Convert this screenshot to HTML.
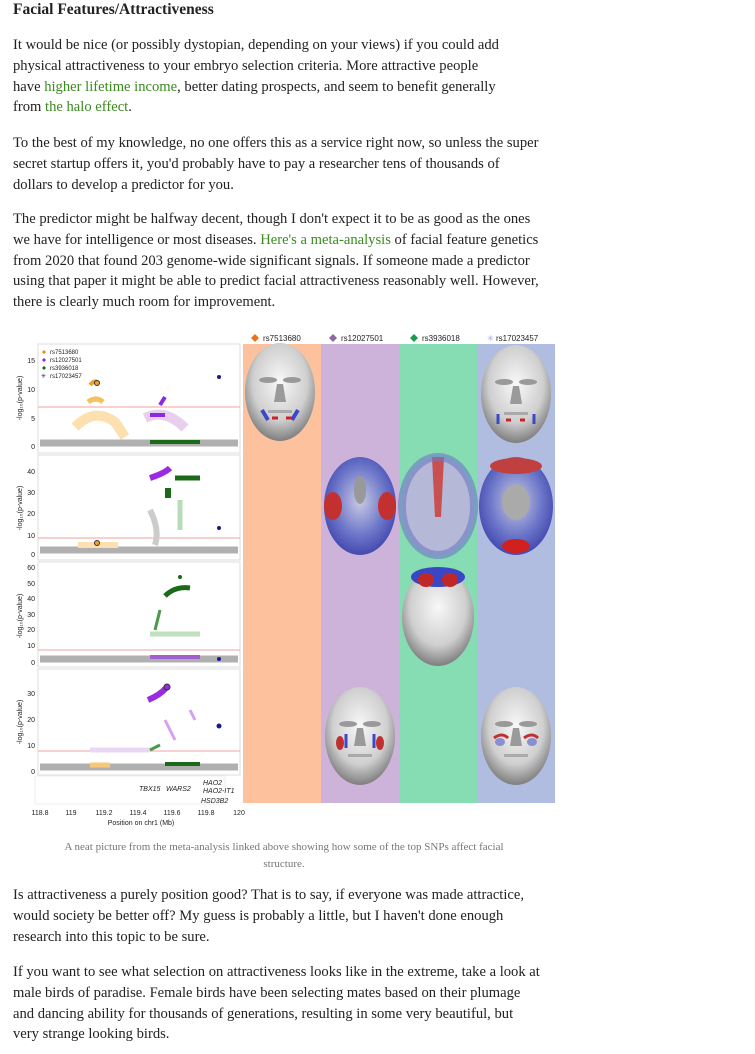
<!DOCTYPE html>
<html><head><meta charset="utf-8"><style>
body{margin:0;background:#fff;width:755px;height:1054px;overflow:hidden;font-family:"Liberation Serif",serif;color:#222;}
.t{position:absolute;left:13px;font-size:14.6px;line-height:20.8px;white-space:nowrap;}
a{color:#3a8a1f;text-decoration:none}
h3{position:absolute;left:13px;top:0;margin:0;font-size:15.5px;font-weight:bold;line-height:20px;}
.cap{position:absolute;left:13px;width:542px;text-align:center;font-size:11px;line-height:17px;color:#777;}
svg text{font-family:"Liberation Sans",sans-serif}
</style></head><body>
<h3>Facial Features/Attractiveness</h3>
<div class="t" style="top:35px">It would be nice (or possibly dystopian, depending on your views) if you could add<br>physical attractiveness to your embryo selection criteria. More attractive people<br>have <a>higher lifetime income</a>, better dating prospects, and seem to benefit generally<br>from <a>the halo effect</a>.</div>
<div class="t" style="top:133px">To the best of my knowledge, no one offers this as a service right now, so unless the super<br>secret startup offers it, you'd probably have to pay a researcher tens of thousands of<br>dollars to develop a predictor for you.</div>
<div class="t" style="top:209px">The predictor might be halfway decent, though I don't expect it to be as good as the ones<br>we have for intelligence or most diseases. <a>Here's a meta-analysis</a> of facial feature genetics<br>from 2020 that found 203 genome-wide significant signals. If someone made a predictor<br>using that paper it might be able to predict facial attractiveness reasonably well. However,<br>there is clearly much room for improvement.</div>

<svg style="position:absolute;left:0;top:330px" width="560" height="500">
<defs>
<radialGradient id="fg" cx="50%" cy="40%" r="60%"><stop offset="0" stop-color="#f8f8f8"/><stop offset=".65" stop-color="#cfcfcf"/><stop offset="1" stop-color="#7e7e7e"/></radialGradient>
<radialGradient id="fb" cx="50%" cy="45%" r="60%"><stop offset="0" stop-color="#c9cbe4"/><stop offset=".6" stop-color="#6a74c8"/><stop offset="1" stop-color="#3b3fa8"/></radialGradient>
<g id="face"><ellipse cx="0" cy="0" rx="35" ry="49" fill="url(#fg)"/><ellipse cx="-12" cy="-12" rx="9" ry="3" fill="#999"/><ellipse cx="12" cy="-12" rx="9" ry="3" fill="#999"/><path d="M-3,-8 L-6,10 L6,10 L3,-8Z" fill="#9a9a9a"/><rect x="-12" y="18" width="24" height="3" fill="#aaa"/></g>
</defs>
<rect x="243" y="14" width="78" height="459" fill="#fdc29d"/>
<rect x="321" y="14" width="78" height="459" fill="#cdb3d9"/>
<rect x="399" y="14" width="78" height="459" fill="#86dcb3"/>
<rect x="477" y="14" width="78" height="459" fill="#b0bde0"/>
<g font-size="8" fill="#222">
<path d="M255,4 l4,4 -4,4 -4,-4z" fill="#e8731a"/><text x="263" y="11">rs7513680</text>
<path d="M333,4 l4,4 -4,4 -4,-4z" fill="#8a6aa0"/><text x="341" y="11">rs12027501</text>
<path d="M414,4 l4,4 -4,4 -4,-4z" fill="#1d9a50"/><text x="422" y="11">rs3936018</text>
<text x="487" y="11" fill="#9aa6d8">✳</text><text x="496" y="11">rs17023457</text>
</g>
<use href="#face" x="280" y="62"/>
<path d="M262,80 l6,10 M298,80 l-6,10" stroke="#3c48c8" stroke-width="4"/><path d="M272,88 h6 M286,88 h6" stroke="#c22" stroke-width="3"/>
<use href="#face" x="516" y="64"/>
<path d="M498,84 v10 M534,84 v10" stroke="#3c48c8" stroke-width="3"/><path d="M506,90 h5 M520,90 h5" stroke="#c22" stroke-width="3"/>
<ellipse cx="360" cy="176" rx="36" ry="49" fill="url(#fb)"/><ellipse cx="333" cy="176" rx="9" ry="14" fill="#c23030"/><ellipse cx="387" cy="176" rx="9" ry="14" fill="#c23030"/><ellipse cx="360" cy="160" rx="6" ry="14" fill="#999"/>
<ellipse cx="438" cy="176" rx="36" ry="49" fill="#b5b8d6"/><path d="M432,127 h12 l-3,60 h-6z" fill="#c85050"/><ellipse cx="438" cy="176" rx="36" ry="49" fill="none" stroke="#6e78c4" stroke-width="8" opacity=".6"/>
<ellipse cx="516" cy="176" rx="37" ry="49" fill="url(#fb)"/><ellipse cx="516" cy="136" rx="26" ry="8" fill="#c04040"/><ellipse cx="516" cy="216" rx="14" ry="7" fill="#d02020"/><ellipse cx="516" cy="172" rx="14" ry="18" fill="#aaa"/>
<ellipse cx="438" cy="287" rx="36" ry="49" fill="url(#fg)"/><ellipse cx="438" cy="247" rx="27" ry="10" fill="#3a46c4"/><ellipse cx="426" cy="250" rx="8" ry="7" fill="#c02828"/><ellipse cx="450" cy="250" rx="8" ry="7" fill="#c02828"/>
<use href="#face" x="360" y="406"/>
<ellipse cx="340" cy="413" rx="4" ry="7" fill="#c03030"/><ellipse cx="380" cy="413" rx="4" ry="7" fill="#c03030"/><path d="M346,404 v14 M374,404 v14" stroke="#3c48c8" stroke-width="3"/>
<use href="#face" x="516" y="406"/>
<path d="M494,408 q8,-6 14,0 M524,408 q8,-6 14,0" stroke="#c03030" stroke-width="3" fill="none"/><ellipse cx="500" cy="412" rx="5" ry="4" fill="#8890d0"/><ellipse cx="532" cy="412" rx="5" ry="4" fill="#8890d0"/>
<g fill="none" stroke="#ddd" stroke-width="1">
<rect x="38" y="14" width="202" height="109"/><rect x="38" y="125" width="202" height="105"/><rect x="38" y="232" width="202" height="105"/><rect x="38" y="339" width="202" height="106"/><rect x="35" y="446" width="190" height="28" stroke="#eee"/>
</g>
<g stroke="#f2a0a0" stroke-width="1"><line x1="38" y1="77" x2="240" y2="77"/><line x1="38" y1="208" x2="240" y2="208"/><line x1="38" y1="320" x2="240" y2="320"/><line x1="38" y1="421" x2="240" y2="421"/></g>
<g stroke="#b0b0b0" stroke-width="7"><line x1="40" y1="113" x2="238" y2="113"/><line x1="40" y1="220" x2="238" y2="220"/><line x1="40" y1="329" x2="238" y2="329"/><line x1="40" y1="437" x2="238" y2="437"/></g>
<g>
<path d="M75,97 q20,-20 40,-5 l10,15" stroke="#fde0b0" stroke-width="10" fill="none"/>
<path d="M88,72 q8,-6 15,0" stroke="#f5c060" stroke-width="5" fill="none"/>
<path d="M90,55 q5,-6 8,-2" stroke="#f0a030" stroke-width="4" fill="none"/><circle cx="97" cy="53" r="2.5" fill="#f0a030" stroke="#333"/>
<path d="M145,88 q20,-10 40,10" stroke="#e6d0ee" stroke-width="10" fill="none"/>
<path d="M150,85 h15 M160,75 l5,-8" stroke="#8a2be2" stroke-width="4"/>
<path d="M150,112 h50" stroke="#1a6a1a" stroke-width="4"/>
<circle cx="219" cy="47" r="2" fill="#1a1a8a"/>
</g>
<g>
<path d="M78,215 h40" stroke="#fde0b0" stroke-width="6"/><circle cx="97" cy="213" r="2.5" fill="#f0a030" stroke="#333"/>
<path d="M150,148 q15,-5 20,-10" stroke="#9a2be2" stroke-width="6" fill="none"/>
<path d="M175,148 h25" stroke="#1a6a1a" stroke-width="5"/><path d="M168,158 v10" stroke="#1a6a1a" stroke-width="6"/>
<path d="M150,180 q10,20 5,35" stroke="#ccc" stroke-width="6" fill="none"/><path d="M180,170 v30" stroke="#b8dcb8" stroke-width="5"/>
<circle cx="219" cy="198" r="2" fill="#1a1a8a"/>
</g>
<g>
<path d="M150,304 h50" stroke="#c0e0c0" stroke-width="5"/><path d="M150,327 h50" stroke="#a060d0" stroke-width="4"/>
<path d="M165,266 q10,-10 25,-8" stroke="#1a6a1a" stroke-width="5" fill="none"/><circle cx="180" cy="247" r="2" fill="#1a6a1a"/>
<path d="M155,300 l5,-20" stroke="#4a9a4a" stroke-width="3"/>
<circle cx="219" cy="329" r="2" fill="#1a1a8a"/>
</g>
<g>
<path d="M148,370 q12,-5 18,-12" stroke="#9a2be2" stroke-width="6" fill="none"/><circle cx="167" cy="357" r="3" fill="#9a2be2" stroke="#333"/>
<path d="M165,390 l10,20 M190,380 l5,10" stroke="#d8a0f0" stroke-width="3"/>
<path d="M90,420 h60" stroke="#e8d8f4" stroke-width="5"/><path d="M90,435 h20" stroke="#f8c878" stroke-width="5"/>
<path d="M165,434 h35" stroke="#1a6a1a" stroke-width="4"/><path d="M150,420 l10,-5" stroke="#4a9a4a" stroke-width="3"/>
<circle cx="219" cy="396" r="2.5" fill="#1a1a8a"/>
</g>
<g font-size="7" fill="#222" text-anchor="end">
<text x="35" y="33">15</text><text x="35" y="62">10</text><text x="35" y="91">5</text><text x="35" y="119">0</text>
<text x="35" y="144">40</text><text x="35" y="165">30</text><text x="35" y="186">20</text><text x="35" y="208">10</text><text x="35" y="227">0</text>
<text x="35" y="240">60</text><text x="35" y="256">50</text><text x="35" y="271">40</text><text x="35" y="287">30</text><text x="35" y="302">20</text><text x="35" y="318">10</text><text x="35" y="335">0</text>
<text x="35" y="366">30</text><text x="35" y="392">20</text><text x="35" y="418">10</text><text x="35" y="444">0</text>
</g>
<g font-size="7" fill="#222" text-anchor="middle">
<text transform="translate(22,68) rotate(-90)">-log₁₀(p-value)</text>
<text transform="translate(22,178) rotate(-90)">-log₁₀(p-value)</text>
<text transform="translate(22,286) rotate(-90)">-log₁₀(p-value)</text>
<text transform="translate(22,392) rotate(-90)">-log₁₀(p-value)</text>
</g>
<g font-size="6" fill="#222">
<path d="M44,20 l2,2 -2,2 -2,-2z" fill="#f08a10"/><text x="50" y="24">rs7513680</text>
<path d="M44,28 l2,2 -2,2 -2,-2z" fill="#8a2be2"/><text x="50" y="32">rs12027501</text>
<path d="M44,36 l2,2 -2,2 -2,-2z" fill="#1a6a1a"/><text x="50" y="40">rs3936018</text>
<text x="41" y="48" fill="#1a1a8a">✳</text><text x="50" y="48">rs17023457</text>
</g>
<g font-size="7" font-style="italic" fill="#222">
<text x="139" y="461">TBX15</text><text x="166" y="461">WARS2</text><text x="203" y="455">HAO2</text><text x="203" y="463">HAO2-IT1</text><text x="201" y="473">HSD3B2</text>
</g>
<g font-size="7" fill="#222" text-anchor="middle">
<text x="40" y="485">118.8</text><text x="71" y="485">119</text><text x="104" y="485">119.2</text><text x="138" y="485">119.4</text><text x="172" y="485">119.6</text><text x="206" y="485">119.8</text><text x="239" y="485">120</text>
<text x="141" y="495">Position on chr1 (Mb)</text>
</g>
</svg>
<div class="cap" style="top:839px">A neat picture from the meta-analysis linked above showing how some of the top SNPs affect facial<br>structure.</div>
<div class="t" style="top:885px">Is attractiveness a purely position good? That is to say, if everyone was made attractice,<br>would society be better off? My guess is probably a little, but I haven't done enough<br>research into this topic to be sure.</div>
<div class="t" style="top:962px">If you want to see what selection on attractiveness looks like in the extreme, take a look at<br>male birds of paradise. Female birds have been selecting mates based on their plumage<br>and dancing ability for thousands of generations, resulting in some very beautiful, but<br>very strange looking birds.</div>
</body></html>
